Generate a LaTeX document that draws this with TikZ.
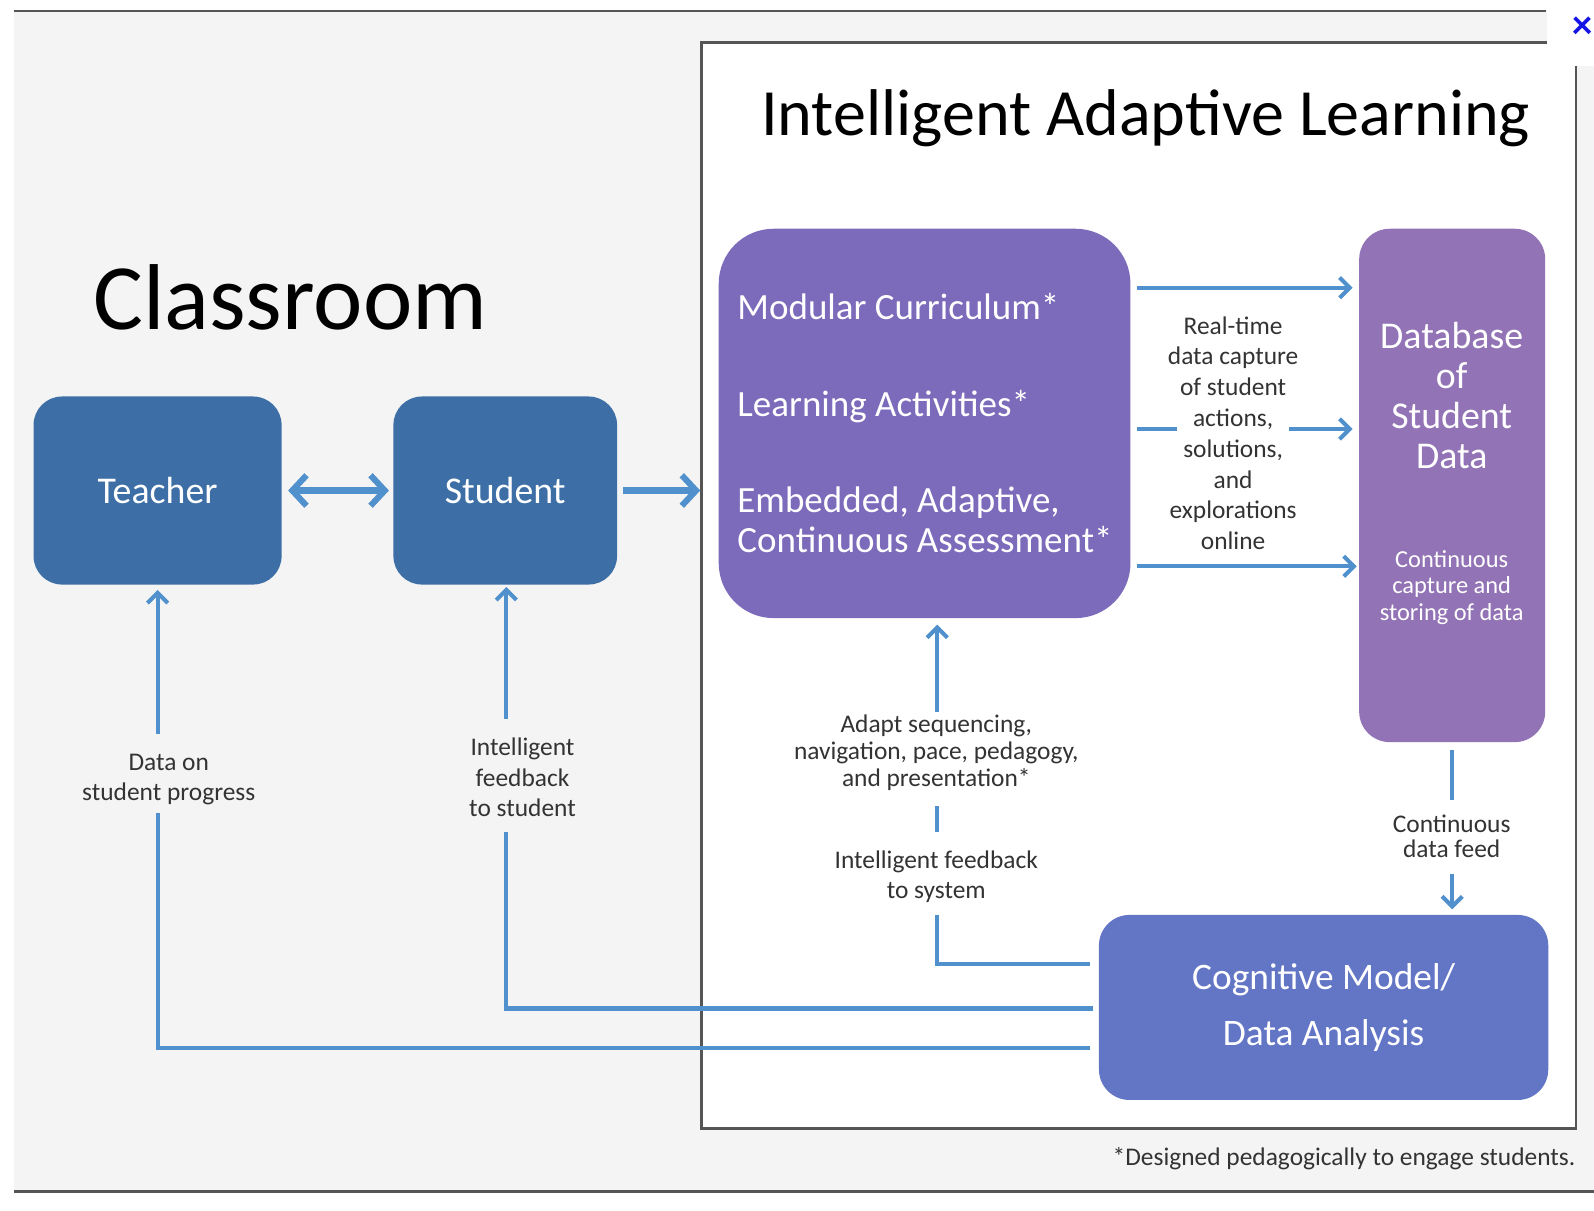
\documentclass[tikz,border=0pt]{standalone}
\usepackage{fontspec}
\setmainfont{Carlito}
\usetikzlibrary{arrows.meta,calc}
\definecolor{bgc}{HTML}{F4F4F4}
\definecolor{boxblue}{HTML}{3D6FA6}
\definecolor{purpA}{HTML}{7C6ABA}
\definecolor{purpB}{HTML}{9273B5}
\definecolor{cogc}{HTML}{6376C5}
\definecolor{arrc}{HTML}{5090CD}
\definecolor{labc}{HTML}{333333}
\definecolor{framec}{HTML}{555555}
\definecolor{closec}{HTML}{1414E6}
\begin{document}
\begin{tikzpicture}[x=0.5pt,y=-0.5pt,
  boxnode/.style={inner sep=0pt, text=white, align=center},
  lab/.style={inner sep=0pt, text=labc, align=center, font=\fontsize{12.5}{15}\selectfont},
  ln/.style={draw=arrc, line width=2pt},
  arr/.style={ln, -{Straight Barb[length=5pt,width=10pt]}},
  fat/.style={draw=arrc, line width=3pt},
  fathead/.tip={Straight Barb[length=7pt,width=15pt]}
]
\useasboundingbox (0,0) rectangle (1568,1191);
% background
\fill[bgc] (14,11) rectangle (1568,1172);
\draw[framec, line width=1.2pt] (14,11) -- (1521,11);
\draw[framec, line width=1.2pt] (14,1172) -- (1568,1172);
% frame
\node[draw=framec, fill=white, line width=1.2pt, minimum width=430pt, minimum height=534pt, inner sep=0pt] (frame) at (1120,576) {};
\fill[white] (1522,0) rectangle (1568,65);
\node[text=closec, font=\fontsize{20}{20}\selectfont\bfseries, inner sep=0pt] (close) at (1557,27) {×};
% titles
\node[anchor=base, inner sep=0pt, font=\fontsize{46}{48}\selectfont] (classroom) at (285.5,324) {Classroom};
\node[anchor=base, inner sep=0pt, font=\fontsize{32.5}{34}\selectfont] (title) at (1127,133) {Intelligent Adaptive Learning};
% boxes
\node[boxnode, fill=boxblue, rounded corners=14pt, minimum width=122pt, minimum height=92.5pt, font=\fontsize{18.6}{20}\selectfont] (teacher) at (155,482.5) {Teacher};
\node[boxnode, fill=boxblue, rounded corners=14pt, minimum width=110pt, minimum height=92.5pt, font=\fontsize{18.6}{20}\selectfont] (student) at (497,482.5) {Student};
\node[boxnode, fill=purpA, rounded corners=27pt, minimum width=202.5pt, minimum height=191.5pt] (big) at (909.5,416.5) {};
\node[boxnode, fill=purpB, rounded corners=15pt, minimum width=91.5pt, minimum height=252.5pt] (db) at (1428.5,477.5) {};
\node[boxnode, fill=cogc, rounded corners=15pt, minimum width=221pt, minimum height=91pt, font=\fontsize{18.4}{27.5}\selectfont] (cog) at (1302,991) {Cognitive Model/\\Data Analysis};
% texts inside boxes
\node[anchor=base west, inner sep=0pt, text=white, font=\fontsize{18.2}{19.5}\selectfont] (mc) at (725,314) {Modular Curriculum*};
\node[anchor=base west, inner sep=0pt, text=white, font=\fontsize{18.2}{19.5}\selectfont] (la) at (725,410) {Learning Activities*};
\node[anchor=west, inner sep=0pt, text=white, align=left, font=\fontsize{18.2}{19.5}\selectfont] (eac) at (725,511) {Embedded, Adaptive,\\Continuous Assessment*};
\node[inner sep=0pt, text=white, align=center, font=\fontsize{18.6}{19.75}\selectfont] (dbt) at (1428,389) {Database\\of\\Student\\Data};
\node[inner sep=0pt, text=white, align=center, font=\fontsize{12}{13}\selectfont] (dbc) at (1428,578) {Continuous\\capture and\\storing of data};
% labels
\node[lab, font=\fontsize{12.5}{15.15}\selectfont] (rt) at (1213,426) {Real-time\\data capture\\of student\\actions,\\solutions,\\and\\explorations\\online};
\node[lab, font=\fontsize{12.5}{13.3}\selectfont] (adapt) at (921,740.5) {Adapt sequencing,\\navigation, pace, pedagogy,\\and presentation*};
\node[lab, font=\fontsize{12.5}{14.5}\selectfont] (fbsys) at (921,862.5) {Intelligent feedback\\to system};
\node[lab, font=\fontsize{12.5}{12.5}\selectfont] (cdf) at (1428,822.5) {Continuous\\data feed};
\node[lab, font=\fontsize{12.5}{15}\selectfont] (fbst) at (514,765) {Intelligent\\feedback\\to student};
\node[lab, font=\fontsize{12.5}{15}\selectfont] (dosp) at (166,767) {Data on\\student progress};
\node[anchor=base east, inner sep=0pt, text=labc, font=\fontsize{12.5}{14}\selectfont] (foot) at (1550,1146) {*Designed pedagogically to engage students.};
% helper coordinates
\coordinate (yA) at (0,283);
\coordinate (yB) at (0,422);
\coordinate (yC) at (0,557);
\coordinate (m1) at (1158,422);
\coordinate (m2) at (1268,422);
\coordinate (a0) at (922,700);
\coordinate (a1) at (922,793);
\coordinate (a2) at (922,818);
\coordinate (a3) at (922,900);
\coordinate (yF) at (0,948);
\coordinate (d1) at (1428.5,787);
\coordinate (d2) at (1428.5,860);
\coordinate (yD) at (0,992);
\coordinate (s1) at (498,818);
\coordinate (s2) at (498,707);
\coordinate (yE) at (0,1031);
\coordinate (t1) at (155,800);
\coordinate (t2) at (155,722);
% connectors
\draw[fat, fathead-fathead, shorten <=3pt, shorten >=2pt] (teacher) -- (student);
\draw[fat, -fathead, shorten <=2.5pt] (student.east) -- (student.east -| frame.west);
\draw[arr, shorten <=3pt, shorten >=3pt] (big.east |- yA) -- (db.west |- yA);
\draw[ln, shorten <=3pt] (big.east |- yB) -- (m1);
\draw[arr, shorten >=3pt] (m2) -- (db.west |- yB);
\draw[arr, shorten <=3pt, shorten >=1pt] (big.east |- yC) -- (db.west |- yC);
\draw[arr, shorten >=3pt] (a0) -- (a0 |- big.south);
\draw[ln] (a1) -- (a2);
\draw[ln, shorten >=4pt] (a3) |- (cog.west |- yF);
\draw[ln, shorten <=3.5pt] (db.south) -- (d1);
\draw[arr, shorten >=2.5pt] (d2) -- (cog.north -| d2);
\draw[ln, shorten <=2.5pt] (cog.west |- yD) -| (s1);
\draw[arr, shorten >=1pt] (s2) -- (student.south -| s2);
\draw[ln, shorten <=4pt] (cog.west |- yE) -| (t1);
\draw[arr, shorten >=2.5pt] (t2) -- (teacher.south -| t2);
\end{tikzpicture}
\end{document}
